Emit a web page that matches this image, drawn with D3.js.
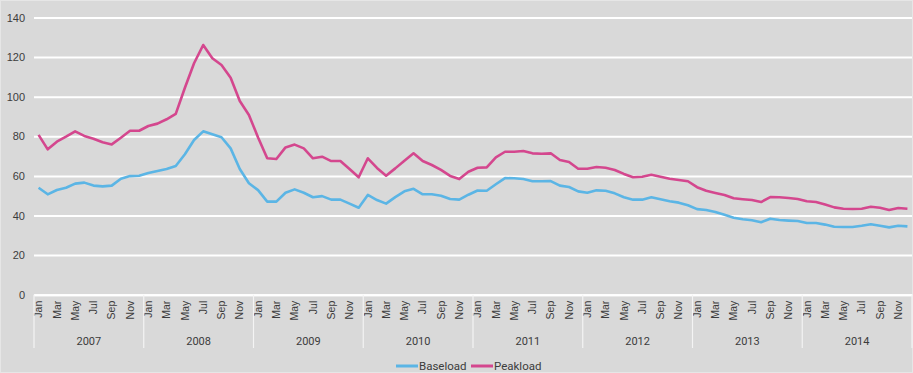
<!DOCTYPE html>
<html>
<head>
<meta charset="utf-8">
<script src="https://cdn.jsdelivr.net/npm/d3@7"></script>
<style>
  html, body { margin: 0; padding: 0; background: #d9d9d9; }
  svg { display: block; font-family: Roboto, "DejaVu Sans", sans-serif; }
</style>
</head>
<body>
<svg id="chart" width="913" height="373"></svg>
<script>
// Monthly prices, Jan 2007 – Dec 2014
const years = ["2007", "2008", "2009", "2010", "2011", "2012", "2013", "2014"];
const monthNames = ["Jan", "Feb", "Mar", "Apr", "May", "Jun", "Jul", "Aug", "Sep", "Oct", "Nov", "Dec"];
const yTicks = [0, 20, 40, 60, 80, 100, 120, 140];

const baseload = [
  54.0, 50.7, 52.9, 54.0, 56.1, 56.6, 55.1, 54.7, 55.1, 58.6, 59.9, 60.1,
  61.5, 62.5, 63.5, 65.0, 70.9, 78.1, 82.5, 81.0, 79.5, 73.9, 63.5, 56.3,
  52.8, 47.0, 47.0, 51.5, 53.2, 51.5, 49.2, 49.8, 48.0, 48.0, 46.0, 43.9,
  50.4, 47.8, 46.0, 49.3, 52.2, 53.5, 50.7, 50.7, 50.0, 48.3, 48.0, 50.5,
  52.6, 52.5, 55.8, 58.9, 58.8, 58.4, 57.3, 57.3, 57.4, 55.1, 54.4, 52.2,
  51.5, 52.7, 52.5, 51.2, 49.2, 48.0, 48.0, 49.2, 48.2, 47.2, 46.5, 45.2,
  43.2, 42.8, 41.8, 40.4, 38.9, 38.1, 37.6, 36.6, 38.4, 37.7, 37.4, 37.2,
  36.2, 36.2, 35.4, 34.3, 34.2, 34.2, 34.8, 35.6, 34.8, 34.0, 34.8, 34.5
];

const peakload = [
  80.7, 73.4, 77.3, 79.8, 82.5, 80.2, 78.8, 77.0, 75.9, 79.3, 82.8, 82.8,
  85.2, 86.4, 88.6, 91.3, 104.5, 116.9, 126.1, 119.4, 116.0, 109.6, 97.8, 90.8,
  79.4, 68.9, 68.5, 74.4, 75.8, 73.9, 68.9, 69.7, 67.5, 67.5, 63.5, 59.3,
  68.9, 64.0, 60.1, 63.8, 67.7, 71.4, 67.5, 65.5, 63.0, 60.0, 58.4, 62.1,
  64.1, 64.3, 69.4, 72.2, 72.2, 72.6, 71.4, 71.2, 71.4, 68.0, 67.0, 63.6,
  63.6, 64.5, 64.1, 63.0, 61.0, 59.3, 59.6, 60.6, 59.6, 58.6, 57.9, 57.3,
  54.3, 52.5, 51.4, 50.4, 48.7, 48.2, 47.8, 46.8, 49.3, 49.2, 48.8, 48.3,
  47.2, 46.8, 45.6, 44.1, 43.4, 43.3, 43.4, 44.4, 43.9, 42.8, 43.8, 43.4
];

const seriesNames = ["Baseload", "Peakload"];
const seriesColors = ["#5bb5e5", "#d4478e"];

const svg = d3.select("#chart");
const W = 913, H = 373;
const plotLeft = 34, plotRight = 912, plotTop = 17.5, plotBottom = 294.7;

// frame
svg.append("rect")
  .attr("x", 0.5).attr("y", 0.5)
  .attr("width", W - 1).attr("height", H - 1)
  .attr("fill", "#d9d9d9").attr("stroke", "#e6e6e6");

const months = d3.range(years.length * 12);
const x = d3.scaleBand().domain(months).range([plotLeft, plotRight]);
const xc = i => x(i) + x.bandwidth() / 2;
const y = d3.scaleLinear().domain([0, 140]).range([plotBottom, plotTop]);

// horizontal gridlines + value labels
const yAxis = svg.append("g")
  .attr("transform", `translate(${plotLeft},0)`)
  .call(d3.axisLeft(y).tickValues(yTicks).tickSize(-(plotRight - plotLeft)).tickPadding(9));
yAxis.select(".domain").remove();
yAxis.selectAll(".tick line").attr("stroke", "#ffffff").attr("stroke-width", 2);
yAxis.selectAll(".tick text")
  .attr("fill", "#3c3c3c").style("font-size", "11px");

// month labels (every other month)
const mAxis = svg.append("g")
  .attr("transform", `translate(0,${plotBottom})`)
  .call(d3.axisBottom(x)
    .tickValues(months.filter(i => i % 2 === 0))
    .tickFormat(i => monthNames[i % 12])
    .tickSize(0));
mAxis.select(".domain").attr("stroke", "#ffffff").attr("stroke-width", 2);
mAxis.selectAll(".tick text")
  .attr("fill", "#3c3c3c")
  .style("font-size", "10.5px")
  .attr("text-anchor", "end")
  .attr("transform", "rotate(-90)")
  .attr("x", -6).attr("y", 0).attr("dy", "0.35em");

// year groups
const xy = d3.scaleBand().domain(years).range([plotLeft, plotRight]);
const yearG = svg.append("g");
yearG.selectAll("line.sep")
  .data(years.concat(["end"]))
  .join("line")
  .attr("class", "sep")
  .attr("x1", (d, i) => i < years.length ? xy(d) : plotRight)
  .attr("x2", (d, i) => i < years.length ? xy(d) : plotRight)
  .attr("y1", plotBottom).attr("y2", 348)
  .attr("stroke", "#f4f4f4").attr("stroke-width", 1.2);
yearG.selectAll("text.yr")
  .data(years)
  .join("text")
  .attr("class", "yr")
  .attr("x", d => xy(d) + xy.bandwidth() / 2)
  .attr("y", 345)
  .attr("text-anchor", "middle")
  .attr("fill", "#3c3c3c")
  .style("font-size", "11px")
  .text(d => d);

// lines
const line = d3.line().x((d, i) => xc(i)).y(d => y(d));
[baseload, peakload].forEach((vals, k) => {
  svg.append("path")
    .datum(vals)
    .attr("fill", "none")
    .attr("stroke", seriesColors[k])
    .attr("stroke-width", 2.6)
    .attr("stroke-linejoin", "round")
    .attr("d", line);
});

// legend
const legendX = [396, 471];
const lg = svg.append("g");
seriesNames.forEach((name, k) => {
  lg.append("line")
    .attr("x1", legendX[k]).attr("x2", legendX[k] + 22)
    .attr("y1", 366).attr("y2", 366)
    .attr("stroke", seriesColors[k]).attr("stroke-width", 3);
  lg.append("text")
    .attr("x", legendX[k] + 23).attr("y", 370)
    .attr("fill", "#3c3c3c")
    .style("font-size", "11.5px")
    .text(name);
});
</script>
</body>
</html>
